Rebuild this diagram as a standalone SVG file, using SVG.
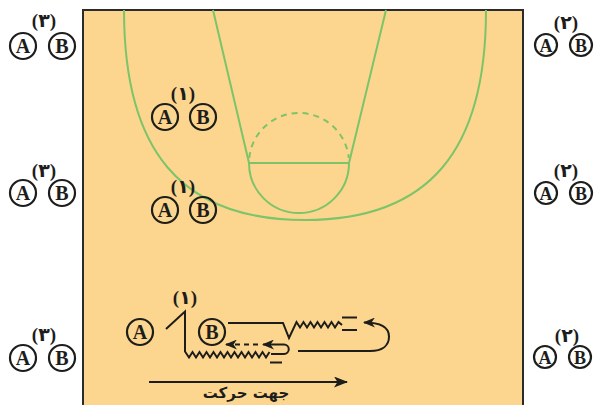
<svg xmlns="http://www.w3.org/2000/svg" width="602" height="405" viewBox="0 0 602 405">
<style>
.court{fill:#FCD68E;stroke:#2b2b2b;stroke-width:2}
.g{fill:none;stroke:#7CC46A;stroke-width:2}
.p{fill:none;stroke:#1d1d1b;stroke-width:2.2}
.pl{font-family:"Liberation Serif",serif;font-weight:bold;font-size:20px;fill:#1d1d1b;text-anchor:middle}
.ps{font-family:"Liberation Serif",serif;font-weight:bold;font-size:18px;fill:#1d1d1b;text-anchor:middle}
.lb{font-family:"Liberation Serif","DejaVu Sans",serif;font-weight:bold;font-size:19px;fill:#1d1d1b;text-anchor:middle}
.ln{fill:none;stroke:#1d1d1b;stroke-width:2;stroke-linejoin:miter}
.fa{font-family:"DejaVu Sans",sans-serif;font-weight:bold;font-size:15px;fill:#1d1d1b;text-anchor:middle}
</style>
<defs>
<marker id="ah" markerUnits="userSpaceOnUse" viewBox="0 0 12 10" refX="11" refY="5" markerWidth="12" markerHeight="10" orient="auto">
<path d="M0,0 L12,5 L0,10 L3.5,5 Z" fill="#1d1d1b"/>
</marker>
<marker id="ahb" markerUnits="userSpaceOnUse" viewBox="0 0 14 11" refX="13" refY="5.5" markerWidth="14" markerHeight="11" orient="auto">
<path d="M0,0 L14,5.5 L0,11 L3.5,5.5 Z" fill="#1d1d1b"/>
</marker>
</defs>

<g id="court">
<rect class="court" x="83" y="10" width="440" height="397"/>
<path class="g" d="M124,10 C124,150 180,220 305,220 C430,220 486,150 486,10"/>
<path class="g" d="M213,10 L249,163 M386,10 L349,163 M249,163 H349"/>
<path class="g" d="M249,163 A50,50 0 0 0 349,163"/>
<path class="g" d="M249.25,158 A50,50 0 0 1 348.75,158" stroke-dasharray="6,5"/>
</g>

<g id="pair-left-top">
<text class="lb" x="44" y="27">(۳)</text>
<circle class="p" cx="23" cy="46" r="13"/><text class="pl" x="23" y="53">A</text>
<circle class="p" cx="62" cy="46" r="13"/><text class="pl" x="62" y="53">B</text>
</g>
<g id="pair-left-mid">
<text class="lb" x="44" y="177">(۳)</text>
<circle class="p" cx="23" cy="193" r="13"/><text class="pl" x="23" y="200">A</text>
<circle class="p" cx="62" cy="193" r="13"/><text class="pl" x="62" y="200">B</text>
</g>
<g id="pair-left-bottom">
<text class="lb" x="44" y="341">(۳)</text>
<circle class="p" cx="23" cy="358" r="13"/><text class="pl" x="23" y="365">A</text>
<circle class="p" cx="62" cy="358" r="13"/><text class="pl" x="62" y="365">B</text>
</g>

<g id="pair-right-top">
<text class="lb" x="566" y="29">(۲)</text>
<circle class="p" cx="546" cy="45" r="11"/><text class="ps" x="546" y="51.5">A</text>
<circle class="p" cx="581" cy="45" r="11"/><text class="ps" x="581" y="51.5">B</text>
</g>
<g id="pair-right-mid">
<text class="lb" x="566" y="177">(۲)</text>
<circle class="p" cx="546" cy="193" r="11"/><text class="ps" x="546" y="199.5">A</text>
<circle class="p" cx="581" cy="193" r="11"/><text class="ps" x="581" y="199.5">B</text>
</g>
<g id="pair-right-bottom">
<text class="lb" x="567" y="342">(۲)</text>
<circle class="p" cx="545" cy="357" r="11"/><text class="ps" x="545" y="363.5">A</text>
<circle class="p" cx="580" cy="357" r="11"/><text class="ps" x="580" y="363.5">B</text>
</g>

<g id="pair-court-1">
<text class="lb" x="183" y="100">(۱)</text>
<circle class="p" cx="165" cy="117" r="13"/><text class="pl" x="165" y="124">A</text>
<circle class="p" cx="203" cy="117" r="13"/><text class="pl" x="203" y="124">B</text>
</g>
<g id="pair-court-2">
<text class="lb" x="183" y="193">(۱)</text>
<circle class="p" cx="165" cy="210" r="13"/><text class="pl" x="165" y="217">A</text>
<circle class="p" cx="203" cy="210" r="13"/><text class="pl" x="203" y="217">B</text>
</g>

<g id="drill-A">
<circle class="p" cx="140" cy="332" r="13"/><text class="pl" x="140" y="339">A</text>
</g>
<g id="drill-B">
<circle class="p" cx="212" cy="332" r="13"/><text class="pl" x="212" y="339">B</text>
</g>
<g id="drill-label">
<text class="lb" x="185" y="304">(۱)</text>
</g>

<g id="connectors">
<path class="ln" d="M166,329 L185,311.5 V351.5 L189,357.5 L192.5,352 L196,357.5 L199.5,352 L203,357.5 L206.5,352 L210,357.5 L213.5,352 L217,357.5 L220.5,352 L224,357.5 L227.5,352 L231,357.5 L234.5,352 L238,357.5 L241.5,352 L245,357.5 L248.5,352 L252,357.5 L255.5,352 L259,357.5 L262.5,352 L266,357.5 L269.5,352"/>
<path class="ln" d="M270,362.5 H282"/>
<path class="ln" d="M228,323 H283 L289,338 L296.5,322 L300,327.5 L303.5,322 L307,327.5 L310.5,322 L314,327.5 L317.5,322 L321,327.5 L324.5,322 L328,327.5 L331.5,322 L335,327.5 L338.5,322 L342,325"/>
<path class="ln" d="M342,317.5 H357 M342,330 H357"/>
<path class="ln" d="M298,351 H370 C383,351 389,345 389,336.5 C389,327 381,322.5 364,322.5" marker-end="url(#ah)"/>
<path class="ln" d="M271,354 H284 A4.75,4.75 0 0 0 284,344.5 H263" marker-end="url(#ah)"/>
<path class="ln" d="M258,344.5 H226" stroke-dasharray="5,4" marker-end="url(#ah)"/>
<path class="ln" d="M149,382 H347" marker-end="url(#ahb)"/>
</g>
<g id="direction-label">
<text class="fa" x="246" y="398">جهت حرکت</text>
</g>
</svg>
